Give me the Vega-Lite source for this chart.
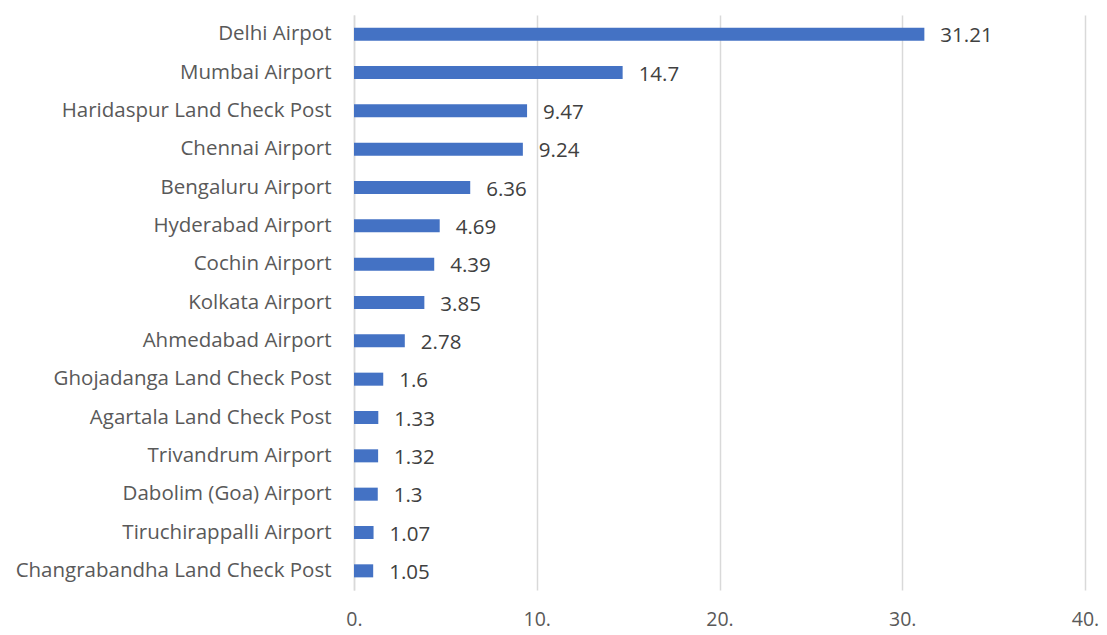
{
  "$schema": "https://vega.github.io/schema/vega-lite/v6.json",
  "autosize": "none",
  "width": 731,
  "height": 575,
  "padding": {"left": 354, "top": 15, "right": 22, "bottom": 45},
  "background": "white",
  "config": {
    "view": {"stroke": null},
    "font": "Open Sans"
  },
  "data": {
    "values": [
      {"port": "Delhi Airpot", "value": 31.21},
      {"port": "Mumbai Airport", "value": 14.7},
      {"port": "Haridaspur Land Check Post", "value": 9.47},
      {"port": "Chennai Airport", "value": 9.24},
      {"port": "Bengaluru Airport", "value": 6.36},
      {"port": "Hyderabad Airport", "value": 4.69},
      {"port": "Cochin Airport", "value": 4.39},
      {"port": "Kolkata Airport", "value": 3.85},
      {"port": "Ahmedabad Airport", "value": 2.78},
      {"port": "Ghojadanga Land Check Post", "value": 1.6},
      {"port": "Agartala Land Check Post", "value": 1.33},
      {"port": "Trivandrum Airport", "value": 1.32},
      {"port": "Dabolim (Goa) Airport", "value": 1.3},
      {"port": "Tiruchirappalli Airport", "value": 1.07},
      {"port": "Changrabandha Land Check Post", "value": 1.05}
    ]
  },
  "encoding": {
    "y": {
      "field": "port",
      "type": "nominal",
      "sort": null,
      "scale": {"paddingInner": 0.66, "paddingOuter": 0.33},
      "axis": {
        "title": null,
        "ticks": false,
        "domainColor": "#d9d9d9",
        "domainWidth": 1.5,
        "labelFontSize": 20.5,
        "labelColor": "#595959",
        "labelPadding": 23,
        "labelLimit": 400
      }
    },
    "x": {
      "field": "value",
      "type": "quantitative",
      "scale": {"domain": [0, 40]},
      "axis": {
        "title": null,
        "values": [0, 10, 20, 30, 40],
        "labelExpr": "datum.value + '.'",
        "labelFlush": false,
        "ticks": false,
        "domain": false,
        "gridColor": "#d9d9d9",
        "gridWidth": 1.5,
        "labelFontSize": 19.5,
        "labelColor": "#595959",
        "labelPadding": 20
      }
    }
  },
  "layer": [
    {"mark": {"type": "bar", "color": "#4472C4"}},
    {
      "mark": {"type": "text", "align": "left", "dx": 16, "dy": 2, "fontSize": 20.5, "color": "#404040"},
      "encoding": {"text": {"field": "value", "type": "quantitative", "format": ""}}
    }
  ]
}
